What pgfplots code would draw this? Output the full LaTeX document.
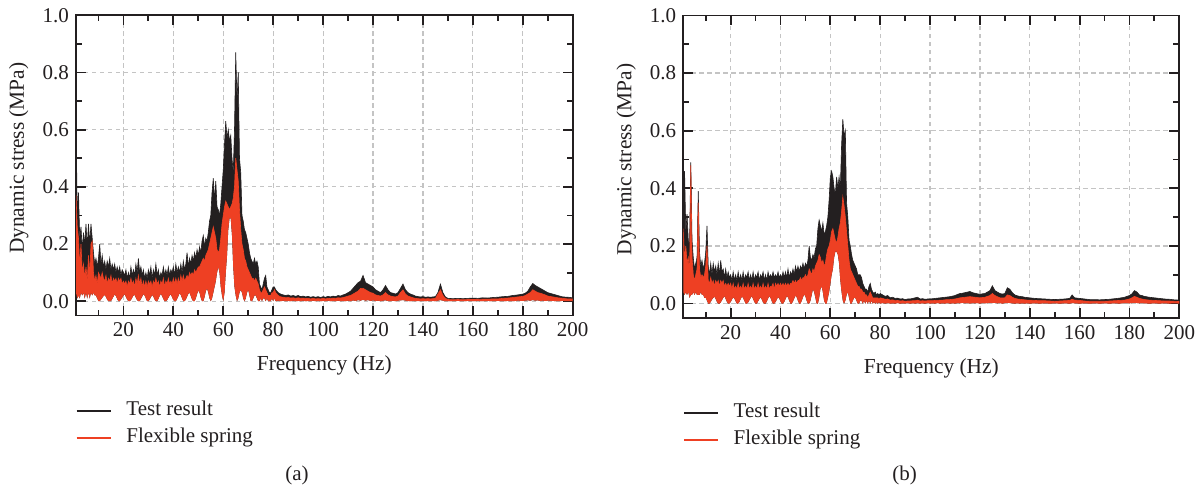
\documentclass[border=0pt]{standalone}
\usepackage{fontspec}
\setmainfont{Liberation Serif}
\usepackage{pgfplots}
\usepackage{pgfplotstable}
\pgfplotsset{compat=1.18}
\usepgfplotslibrary{fillbetween}
\definecolor{tblack}{RGB}{35,31,32}
\definecolor{tred}{RGB}{238,64,35}
\definecolor{gridc}{RGB}{196,196,196}

\pgfplotstableread{
x thi fhi lo
1.0 0.64 0.37 0.03
1.5 0.30 0.26 0.01
2.0 0.38 0.22 0.02
2.5 0.22 0.12 0.01
3.0 0.26 0.20 0.03
3.5 0.18 0.10 0.02
4.0 0.24 0.13 0.03
4.5 0.20 0.08 0.01
5.0 0.27 0.12 0.03
5.5 0.19 0.07 0.01
6.0 0.27 0.16 0.03
6.5 0.20 0.09 0.01
7.0 0.27 0.20 0.03
7.5 0.22 0.21 0.02
8.0 0.17 0.10 0.03
8.5 0.13 0.07 0.02
9.0 0.15 0.09 0.02
9.5 0.12 0.06 0.01
10.0 0.15 0.10 0.00
10.5 0.20 0.09 0.00
11.0 0.13 0.08 0.006
11.5 0.16 0.10 0.012
12.0 0.12 0.08 0.018
12.5 0.14 0.07 0.022
13.0 0.11 0.09 0.015
13.5 0.14 0.06 0.006
14.0 0.12 0.08 0.00
14.5 0.15 0.07 0.00
15.0 0.11 0.09 0.00
15.5 0.13 0.06 0.008
16.0 0.11 0.08 0.016
16.5 0.13 0.07 0.024
17.0 0.10 0.08 0.018
17.5 0.12 0.06 0.008
18.0 0.10 0.08 0.00
18.5 0.12 0.07 0.00
19.0 0.09 0.08 0.006
19.5 0.11 0.06 0.012
20.0 0.10 0.07 0.02
20.5 0.09 0.06 0.025
21.0 0.11 0.07 0.015
21.5 0.08 0.05 0.006
22.0 0.10 0.07 0.00
22.5 0.08 0.06 0.00
23.0 0.12 0.08 0.004
23.5 0.09 0.06 0.012
24.0 0.11 0.07 0.02
24.5 0.09 0.05 0.022
25.0 0.13 0.08 0.012
25.5 0.10 0.06 0.004
26.0 0.15 0.09 0.00
26.5 0.10 0.06 0.00
27.0 0.12 0.08 0.008
27.5 0.09 0.05 0.016
28.0 0.11 0.07 0.025
28.5 0.08 0.05 0.02
29.0 0.10 0.07 0.01
29.5 0.08 0.05 0.00
30.0 0.11 0.07 0.00
30.5 0.09 0.06 0.006
31.0 0.12 0.07 0.014
31.5 0.08 0.05 0.022
32.0 0.11 0.07 0.016
32.5 0.09 0.06 0.006
33.0 0.13 0.08 0.00
33.5 0.09 0.06 0.00
34.0 0.11 0.07 0.008
34.5 0.08 0.05 0.018
35.0 0.10 0.07 0.026
35.5 0.09 0.06 0.018
36.0 0.12 0.08 0.008
36.5 0.09 0.05 0.00
37.0 0.11 0.07 0.00
37.5 0.09 0.06 0.004
38.0 0.12 0.08 0.012
38.5 0.09 0.06 0.02
39.0 0.11 0.07 0.024
39.5 0.10 0.06 0.014
40.0 0.12 0.08 0.004
40.5 0.09 0.06 0.00
41.0 0.13 0.08 0.00
41.5 0.10 0.06 0.008
42.0 0.12 0.08 0.018
42.5 0.10 0.06 0.028
43.0 0.13 0.09 0.022
43.5 0.10 0.07 0.01
44.0 0.14 0.09 0.00
44.5 0.11 0.07 0.00
45.0 0.13 0.08 0.006
45.5 0.17 0.09 0.016
46.0 0.12 0.08 0.026
46.5 0.15 0.10 0.03
47.0 0.13 0.09 0.018
47.5 0.16 0.10 0.006
48.0 0.14 0.09 0.00
48.5 0.17 0.11 0.00
49.0 0.15 0.10 0.01
49.5 0.18 0.11 0.025
50.0 0.16 0.12 0.038
50.5 0.19 0.12 0.03
51.0 0.17 0.13 0.012
51.5 0.21 0.14 0.00
52.0 0.23 0.15 0.00
52.5 0.19 0.14 0.015
53.0 0.22 0.16 0.035
53.5 0.21 0.17 0.045
54.0 0.24 0.18 0.03
54.5 0.28 0.20 0.01
55.0 0.30 0.22 0.00
55.5 0.38 0.24 0.01
56.0 0.43 0.26 0.03
56.5 0.35 0.24 0.05
57.0 0.42 0.22 0.07
57.5 0.33 0.18 0.10
58.0 0.32 0.17 0.12
58.5 0.30 0.18 0.10
59.0 0.34 0.22 0.05
59.5 0.40 0.27 0.02
60.0 0.46 0.30 0.00
60.5 0.55 0.33 0.03
61.0 0.63 0.35 0.10
61.5 0.57 0.34 0.16
62.0 0.60 0.33 0.25
62.5 0.56 0.32 0.29
63.0 0.58 0.33 0.29
63.5 0.50 0.34 0.23
64.0 0.45 0.36 0.12
64.5 0.60 0.40 0.05
65.0 0.87 0.50 0.02
65.5 0.70 0.46 0.00
66.0 0.80 0.42 0.01
66.5 0.50 0.32 0.03
67.0 0.45 0.25 0.04
67.5 0.30 0.20 0.03
68.0 0.28 0.18 0.01
68.5 0.25 0.15 0.00
69.0 0.24 0.14 0.01
69.5 0.22 0.12 0.03
70.0 0.20 0.11 0.04
70.5 0.17 0.10 0.02
71.0 0.15 0.09 0.00
71.5 0.14 0.08 0.00
72.0 0.13 0.08 0.01
72.5 0.15 0.07 0.02
73.0 0.13 0.08 0.02
73.5 0.14 0.07 0.01
74.0 0.12 0.06 0.00
74.5 0.06 0.04 0.00
75.0 0.05 0.03 0.01
75.5 0.04 0.03 0.00
76.0 0.06 0.04 0.01
76.5 0.08 0.05 0.01
77.0 0.09 0.04 0.00
77.5 0.05 0.03 0.01
78.0 0.04 0.02 0.00
78.5 0.03 0.02 0.00
79.0 0.03 0.02 0.00
79.5 0.04 0.03 0.01
80.0 0.05 0.03 0.00
80.5 0.05 0.04 0.01
81.0 0.04 0.03 0.00
82 0.030 0.020 0.002
83 0.025 0.015 0.000
84 0.022 0.014 0.002
85 0.020 0.012 0.000
86 0.022 0.013 0.001
87 0.018 0.011 0.000
88 0.020 0.012 0.002
89 0.017 0.010 0.000
90 0.020 0.012 0.001
91 0.016 0.010 0.000
92 0.018 0.011 0.002
93 0.015 0.009 0.000
94 0.017 0.010 0.001
95 0.014 0.008 0.000
96 0.016 0.010 0.002
97 0.014 0.008 0.000
98 0.016 0.009 0.001
99 0.013 0.008 0.000
100 0.016 0.010 0.001
101 0.014 0.008 0.000
102 0.017 0.010 0.002
103 0.015 0.009 0.000
104 0.018 0.011 0.001
105 0.016 0.010 0.000
106 0.020 0.012 0.002
107 0.018 0.011 0.000
108 0.022 0.013 0.001
109 0.025 0.015 0.000
110 0.030 0.018 0.002
111 0.035 0.020 0.000
112 0.045 0.025 0.003
113 0.055 0.030 0.001
114 0.065 0.035 0.004
115 0.070 0.045 0.002
116 0.090 0.045 0.005
117 0.065 0.040 0.002
118 0.060 0.035 0.004
119 0.055 0.030 0.001
120 0.050 0.028 0.003
121 0.040 0.022 0.001
122 0.035 0.020 0.002
123 0.030 0.018 0.000
124 0.040 0.022 0.002
125 0.055 0.030 0.003
126 0.040 0.022 0.001
127 0.030 0.018 0.000
128 0.028 0.016 0.002
129 0.025 0.015 0.000
130 0.030 0.018 0.002
131 0.045 0.030 0.003
132 0.060 0.040 0.004
133 0.040 0.025 0.002
134 0.030 0.018 0.001
135 0.025 0.015 0.000
136 0.022 0.012 0.001
137 0.018 0.010 0.000
138 0.016 0.009 0.001
139 0.015 0.008 0.000
140 0.016 0.009 0.001
141 0.014 0.008 0.000
142 0.015 0.009 0.001
143 0.014 0.008 0.000
144 0.015 0.009 0.001
145 0.016 0.010 0.000
146 0.030 0.025 0.002
147 0.060 0.040 0.004
148 0.030 0.020 0.002
149 0.015 0.010 0.000
150 0.010 0.006 0.000
152 0.009 0.005 0.000
154 0.010 0.006 0.001
156 0.009 0.005 0.000
158 0.010 0.006 0.001
160 0.011 0.006 0.000
162 0.010 0.006 0.001
164 0.012 0.007 0.000
166 0.011 0.007 0.001
168 0.013 0.008 0.000
170 0.014 0.008 0.001
172 0.016 0.010 0.000
174 0.017 0.011 0.001
176 0.020 0.013 0.000
178 0.022 0.015 0.002
180 0.025 0.017 0.001
181 0.028 0.020 0.002
182 0.035 0.025 0.003
183 0.050 0.030 0.002
184 0.062 0.040 0.004
185 0.055 0.035 0.002
186 0.050 0.030 0.003
187 0.045 0.028 0.001
188 0.040 0.025 0.002
189 0.035 0.022 0.001
190 0.030 0.018 0.002
192 0.025 0.015 0.001
194 0.020 0.012 0.000
196 0.015 0.010 0.001
198 0.014 0.008 0.000
200 0.012 0.008 0.000
}\dataA

\pgfplotstableread{
x thi fhi lo
1.0 0.27 0.26 0.04
1.5 0.46 0.15 0.03
2.0 0.25 0.20 0.04
2.5 0.31 0.14 0.03
3.0 0.22 0.16 0.04
3.5 0.20 0.10 0.02
4.0 0.49 0.48 0.03
4.5 0.22 0.16 0.03
5.0 0.16 0.10 0.04
5.5 0.12 0.08 0.03
6.0 0.14 0.10 0.04
6.5 0.16 0.12 0.03
7.0 0.39 0.35 0.03
7.5 0.18 0.12 0.03
8.0 0.13 0.09 0.04
8.5 0.15 0.10 0.03
9.0 0.12 0.09 0.03
9.5 0.14 0.10 0.02
10.0 0.18 0.13 0.02
10.5 0.27 0.20 0.01
11.0 0.13 0.08 0.00
11.5 0.10 0.07 0.00
12.0 0.14 0.09 0.006
12.5 0.10 0.07 0.014
13.0 0.14 0.08 0.02
13.5 0.11 0.06 0.024
14.0 0.13 0.08 0.016
14.5 0.10 0.07 0.006
15.0 0.14 0.08 0.00
15.5 0.10 0.06 0.00
16.0 0.15 0.08 0.004
16.5 0.11 0.07 0.012
17.0 0.12 0.08 0.02
17.5 0.09 0.06 0.026
18.0 0.12 0.07 0.016
18.5 0.09 0.06 0.006
19.0 0.11 0.07 0.00
19.5 0.09 0.06 0.00
20.0 0.10 0.07 0.006
20.5 0.08 0.05 0.014
21.0 0.11 0.07 0.022
21.5 0.08 0.05 0.018
22.0 0.10 0.06 0.008
22.5 0.08 0.05 0.00
23.0 0.11 0.07 0.00
23.5 0.08 0.05 0.006
24.0 0.10 0.06 0.016
24.5 0.08 0.05 0.024
25.0 0.11 0.07 0.02
25.5 0.08 0.05 0.01
26.0 0.10 0.06 0.00
26.5 0.09 0.05 0.00
27.0 0.11 0.07 0.004
27.5 0.08 0.05 0.012
28.0 0.10 0.06 0.02
28.5 0.08 0.05 0.026
29.0 0.11 0.07 0.016
29.5 0.08 0.05 0.006
30.0 0.10 0.06 0.00
30.5 0.09 0.05 0.00
31.0 0.11 0.07 0.008
31.5 0.08 0.05 0.016
32.0 0.10 0.06 0.022
32.5 0.09 0.05 0.014
33.0 0.11 0.07 0.004
33.5 0.08 0.05 0.00
34.0 0.10 0.06 0.00
34.5 0.08 0.05 0.008
35.0 0.11 0.07 0.018
35.5 0.09 0.05 0.026
36.0 0.10 0.06 0.02
36.5 0.09 0.06 0.008
37.0 0.11 0.07 0.00
37.5 0.09 0.05 0.00
38.0 0.10 0.07 0.006
38.5 0.09 0.06 0.014
39.0 0.11 0.07 0.022
39.5 0.09 0.06 0.018
40.0 0.10 0.07 0.008
40.5 0.09 0.06 0.00
41.0 0.11 0.07 0.00
41.5 0.09 0.06 0.006
42.0 0.11 0.07 0.016
42.5 0.09 0.06 0.026
43.0 0.12 0.07 0.022
43.5 0.09 0.06 0.01
44.0 0.11 0.07 0.00
44.5 0.10 0.07 0.00
45.0 0.12 0.08 0.008
45.5 0.10 0.07 0.018
46.0 0.13 0.08 0.028
46.5 0.11 0.07 0.022
47.0 0.13 0.08 0.01
47.5 0.11 0.08 0.00
48.0 0.13 0.09 0.00
48.5 0.12 0.08 0.01
49.0 0.14 0.09 0.022
49.5 0.12 0.09 0.032
50.0 0.14 0.10 0.025
50.5 0.13 0.09 0.01
51.0 0.15 0.10 0.00
51.5 0.20 0.12 0.00
52.0 0.16 0.11 0.01
52.5 0.15 0.10 0.03
53.0 0.17 0.12 0.05
53.5 0.16 0.11 0.04
54.0 0.19 0.13 0.02
54.5 0.20 0.14 0.00
55.0 0.26 0.15 0.00
55.5 0.29 0.17 0.02
56.0 0.27 0.16 0.05
56.5 0.25 0.14 0.06
57.0 0.28 0.15 0.04
57.5 0.24 0.13 0.01
58.0 0.25 0.14 0.00
58.5 0.27 0.17 0.00
59.0 0.30 0.19 0.02
59.5 0.36 0.20 0.04
60.0 0.44 0.22 0.07
60.5 0.46 0.25 0.10
61.0 0.44 0.26 0.12
61.5 0.40 0.24 0.16
62.0 0.38 0.22 0.18
62.5 0.44 0.21 0.18
63.0 0.40 0.23 0.17
63.5 0.44 0.26 0.14
64.0 0.40 0.28 0.08
64.5 0.55 0.32 0.04
65.0 0.64 0.37 0.01
65.5 0.58 0.34 0.00
66.0 0.60 0.30 0.01
66.5 0.35 0.25 0.03
67.0 0.30 0.20 0.04
67.5 0.22 0.15 0.02
68.0 0.20 0.12 0.00
68.5 0.17 0.11 0.00
69.0 0.15 0.10 0.01
69.5 0.14 0.09 0.02
70.0 0.13 0.08 0.02
70.5 0.12 0.07 0.01
71.0 0.10 0.06 0.00
71.5 0.10 0.06 0.00
72.0 0.10 0.05 0.01
72.5 0.09 0.05 0.01
73.0 0.07 0.04 0.00
73.5 0.06 0.04 0.01
74.0 0.05 0.03 0.00
74.5 0.05 0.03 0.01
75.0 0.04 0.02 0.00
75.5 0.06 0.03 0.01
76.0 0.07 0.04 0.00
76.5 0.05 0.03 0.01
77.0 0.04 0.02 0.00
77.5 0.035 0.02 0.005
78.0 0.04 0.02 0.00
78.5 0.03 0.02 0.005
79.0 0.035 0.02 0.00
79.5 0.03 0.015 0.005
80.0 0.035 0.02 0.00
81 0.030 0.018 0.002
82 0.025 0.015 0.000
83 0.028 0.016 0.002
84 0.020 0.012 0.000
85 0.022 0.013 0.001
86 0.018 0.010 0.000
87 0.019 0.011 0.002
88 0.016 0.009 0.000
89 0.017 0.010 0.001
90 0.014 0.008 0.000
91 0.016 0.009 0.002
92 0.016 0.009 0.000
93 0.018 0.010 0.001
94 0.020 0.010 0.000
95 0.022 0.012 0.002
96 0.016 0.009 0.000
97 0.017 0.010 0.001
98 0.015 0.009 0.000
99 0.016 0.010 0.002
100 0.016 0.010 0.000
101 0.017 0.010 0.001
102 0.018 0.011 0.000
103 0.019 0.011 0.002
104 0.020 0.012 0.000
105 0.021 0.012 0.001
106 0.022 0.013 0.000
107 0.023 0.014 0.002
108 0.024 0.014 0.000
109 0.026 0.015 0.001
110 0.028 0.016 0.000
111 0.032 0.018 0.002
112 0.035 0.020 0.001
113 0.036 0.021 0.003
114 0.038 0.022 0.001
115 0.040 0.023 0.002
116 0.042 0.024 0.000
117 0.038 0.023 0.002
118 0.036 0.022 0.001
119 0.034 0.021 0.002
120 0.032 0.020 0.000
121 0.034 0.021 0.002
122 0.035 0.022 0.001
123 0.040 0.025 0.002
124 0.045 0.028 0.003
125 0.062 0.035 0.002
126 0.045 0.028 0.003
127 0.040 0.024 0.001
128 0.035 0.020 0.002
129 0.033 0.020 0.000
130 0.035 0.020 0.002
131 0.055 0.030 0.003
132 0.050 0.028 0.002
133 0.038 0.022 0.001
134 0.030 0.018 0.000
135 0.027 0.016 0.001
136 0.025 0.015 0.000
137 0.024 0.014 0.001
138 0.022 0.013 0.000
139 0.021 0.012 0.001
140 0.020 0.012 0.000
142 0.018 0.011 0.001
144 0.017 0.010 0.000
146 0.016 0.010 0.001
148 0.015 0.009 0.000
150 0.014 0.008 0.001
152 0.015 0.009 0.000
154 0.016 0.010 0.001
156 0.018 0.011 0.000
157 0.030 0.015 0.002
158 0.020 0.012 0.001
160 0.018 0.011 0.000
162 0.016 0.009 0.001
164 0.014 0.008 0.000
166 0.014 0.008 0.001
168 0.013 0.008 0.000
170 0.014 0.008 0.001
172 0.015 0.009 0.000
174 0.017 0.010 0.001
176 0.019 0.011 0.000
178 0.022 0.012 0.002
180 0.028 0.016 0.001
181 0.034 0.020 0.002
182 0.045 0.025 0.003
183 0.040 0.022 0.002
184 0.030 0.018 0.001
185 0.028 0.016 0.002
186 0.025 0.014 0.001
188 0.022 0.012 0.000
190 0.020 0.011 0.001
192 0.018 0.010 0.000
194 0.016 0.009 0.001
196 0.015 0.009 0.000
198 0.013 0.008 0.001
200 0.012 0.007 0.000
}\dataB

\pgfplotsset{
  myaxis/.style={
    scale only axis,
    xmin=1, xmax=200, ymin=-0.05, ymax=1.0,
    xtick={20,40,...,200},
    minor xtick={10,30,...,190},
    ytick={0,0.2,0.4,0.6,0.8,1.0},
    minor ytick={0.1,0.3,0.5,0.7,0.9},
    yticklabel style={/pgf/number format/.cd, fixed, fixed zerofill, precision=1},
    xticklabel style={/pgf/number format/.cd, fixed},
    /pgf/number format/assume math mode=true,
    tick label style={font=\fontsize{10.5}{12}\selectfont, text=tblack},
    label style={font=\fontsize{10.7}{12.5}\selectfont, text=tblack},
    axis line style={line width=0.9pt, tblack},
    every tick/.style={line width=0.9pt, tblack},
    major tick length=5pt,
    minor tick length=3pt,
    grid=major,
    major grid style={gridc, line width=0.6pt, dash pattern=on 2.2pt off 1.8pt},
    xlabel={Frequency (Hz)},
    ylabel={Dynamic stress (MPa)},
    xlabel style={at={(axis description cs:0.5,-0.165)}, anchor=center},
    ylabel style={at={(axis description cs:-0.115,0.524)}, anchor=center},
    legend style={anchor=north west,
      draw=none, fill=none, inner sep=0pt, outer sep=0pt,
      column sep=7.5pt, row sep=4pt,
      font=\fontsize{10.5}{12}\selectfont,
      nodes={inner sep=0pt, text height=7pt, text depth=2.5pt, text=tblack}},
    legend cell align=left,
    legend image code/.code={\draw[##1] (0pt,0pt) -- (17pt,0pt);},
  }
}

\begin{document}
\begin{tikzpicture}
\path (0,0) rectangle (601pt,243.5pt);

\begin{axis}[myaxis, at={(38pt,85.75pt)}, anchor=south west, width=248.35pt, height=150.1pt,
  legend style={at={(axis description cs:0,-0.28694)}}]
\addlegendimage{tblack, line width=0.7pt}
\addlegendentry{Test result}
\addlegendimage{tred, line width=0.7pt}
\addlegendentry{Flexible spring}
\addplot[name path=tA, tblack, line width=0.3pt, forget plot] table[x=x, y=thi] {\dataA};
\addplot[name path=lA, draw=none, forget plot] table[x=x, y=lo] {\dataA};
\addplot[fill=tblack, draw=none, forget plot] fill between[of=tA and lA];
\addplot[name path=fA, tred, line width=0.3pt, forget plot] table[x=x, y=fhi] {\dataA};
\addplot[fill=tred, draw=none, forget plot] fill between[of=fA and lA];
\end{axis}

\begin{axis}[myaxis, at={(341.65pt,84.5pt)}, anchor=south west, width=248pt, height=151.3pt,
  legend style={at={(axis description cs:0,-0.283)}}]
\addlegendimage{tblack, line width=0.7pt}
\addlegendentry{Test result}
\addlegendimage{tred, line width=0.7pt}
\addlegendentry{Flexible spring}
\addplot[name path=tB, tblack, line width=0.3pt, forget plot] table[x=x, y=thi] {\dataB};
\addplot[name path=lB, draw=none, forget plot] table[x=x, y=lo] {\dataB};
\addplot[fill=tblack, draw=none, forget plot] fill between[of=tB and lB];
\addplot[name path=fB, tred, line width=0.3pt, forget plot] table[x=x, y=fhi] {\dataB};
\addplot[fill=tred, draw=none, forget plot] fill between[of=fB and lB];
\end{axis}

\node[font=\fontsize{10.5}{12}\selectfont, text=tblack] at (148.5pt,6pt) {(a)};
\node[font=\fontsize{10.5}{12}\selectfont, text=tblack] at (452.25pt,6pt) {(b)};
\end{tikzpicture}
\end{document}
